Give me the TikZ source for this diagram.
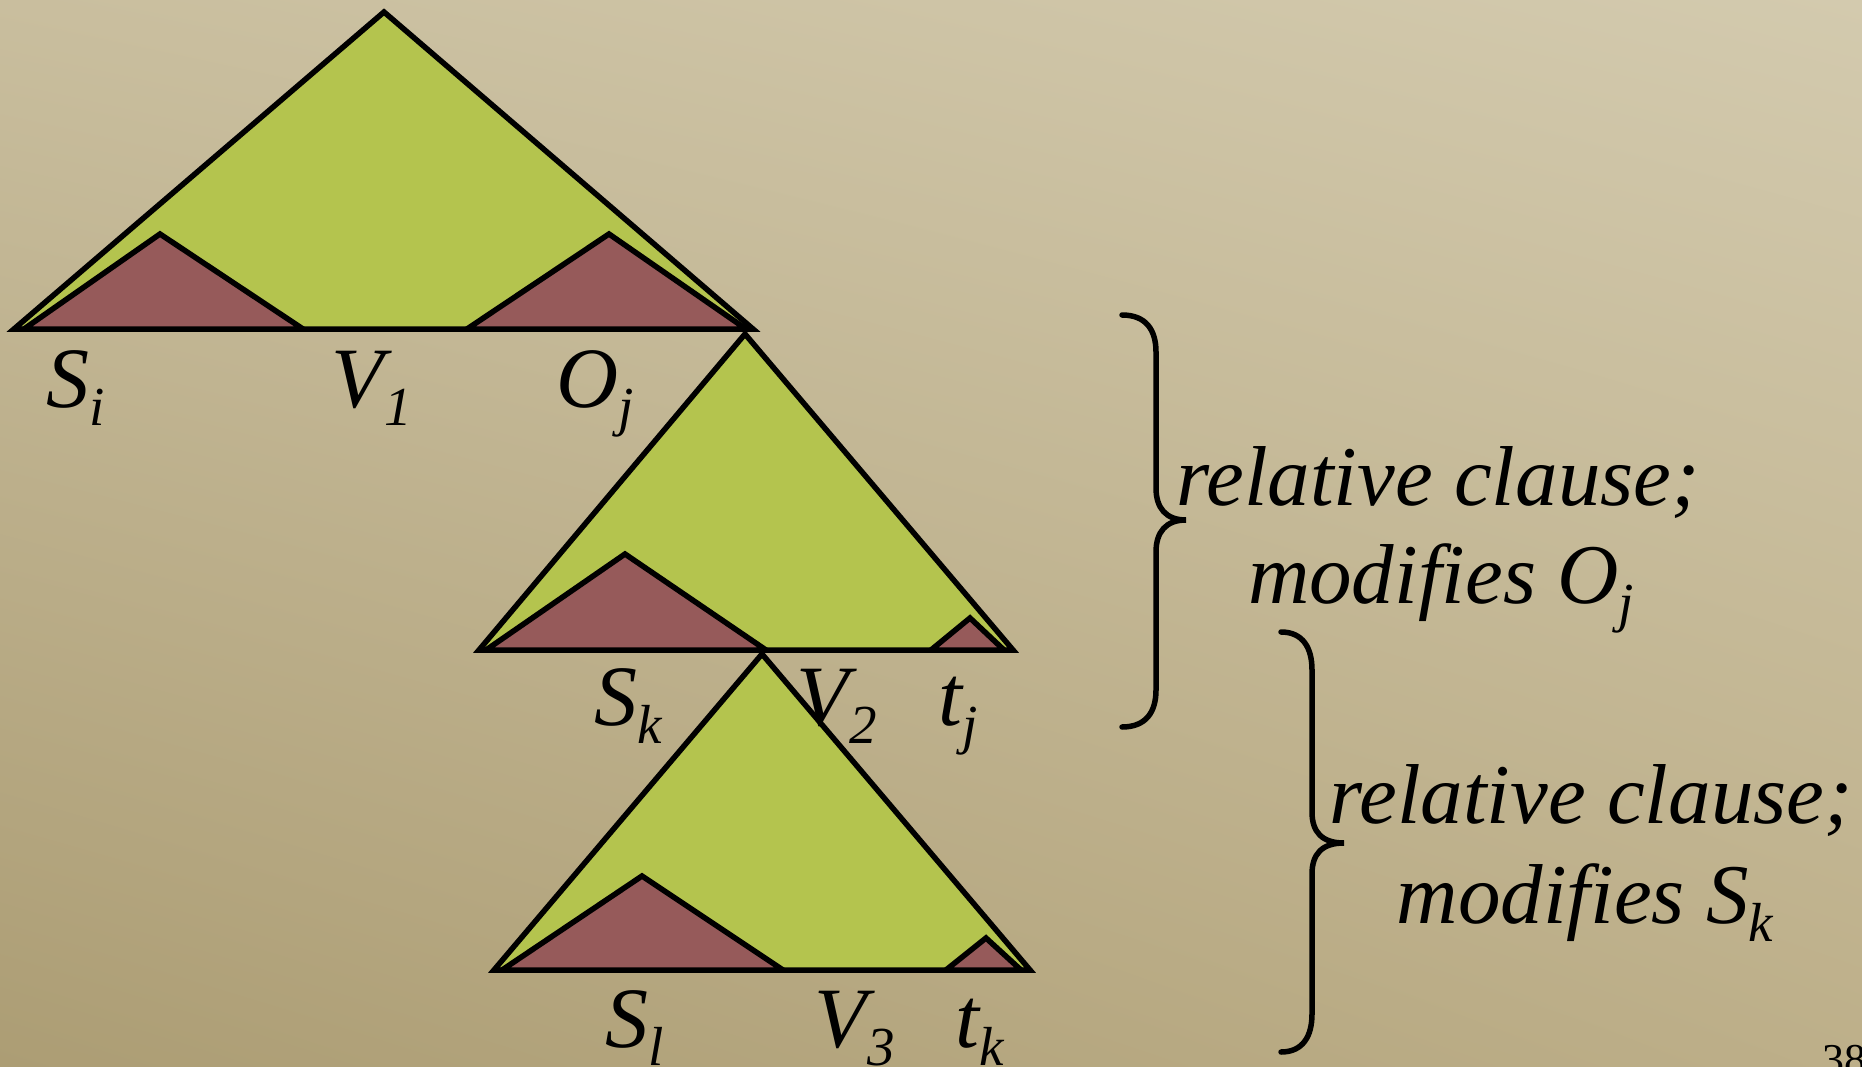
\documentclass[tikz,border=0pt]{standalone}
\usepackage{fontspec}
\setmainfont{Liberation Serif}
\usetikzlibrary{shadings}
\definecolor{treegreen}{HTML}{B4C44E}
\definecolor{treered}{HTML}{965A5A}
\definecolor{bgUL}{HTML}{C9BE9E}
\definecolor{bgUR}{HTML}{D3CAAE}
\definecolor{bgLL}{HTML}{AC9D74}
\definecolor{bgLR}{HTML}{BDAF89}
\newcommand\lowsub[1]{\raisebox{-0.22em}{\fontsize{55}{55}\selectfont #1}}
\begin{document}
\begin{tikzpicture}[x=1pt,y=-1pt,
  tri/.style={draw=black,line width=5.5pt,line join=miter},
  bigtri/.style={tri,fill=treegreen},
  subtri/.style={tri,fill=treered},
  lbl/.style={inner sep=0pt,anchor=base,font=\fontsize{86}{100}\selectfont\itshape},
  note/.style={inner sep=0pt,anchor=base,font=\fontsize{85}{98}\selectfont\itshape},
  bracepath/.style={draw=black,line width=5.5pt,line cap=round,line join=miter}]
\useasboundingbox (0,0) rectangle (1862,1067);
\shade[upper left=bgUL, upper right=bgUR, lower left=bgLL, lower right=bgLR] (0,0) rectangle (1862,1067);

% tree 1
\draw[bigtri] (14,329) -- (384,12) -- (753,329) -- cycle;
\draw[subtri] (24,329) -- (160,234) -- (303,329) -- cycle;
\draw[subtri] (467,329) -- (609,234) -- (746,329) -- cycle;

% tree 2
\draw[bigtri] (479,650) -- (745,334) -- (1013,650) -- cycle;
\draw[subtri] (486,650) -- (625,554) -- (766,650) -- cycle;
\draw[subtri] (931,650) -- (970,618) -- (1004,650) -- cycle;

% tree 3
\draw[bigtri] (494,970) -- (762,654) -- (1030,970) -- cycle;
\draw[subtri] (502,970) -- (642,876) -- (783,970) -- cycle;
\draw[subtri] (946,970) -- (986,938) -- (1021,970) -- cycle;

% labels
\node[lbl] (lSi) at (76,407) {S\lowsub{i}};
\node[lbl] (lVa) at (372,407) {V\lowsub{1}};
\node[lbl] (lOj) at (595,407) {O\lowsub{j}};
\node[lbl] (lSk) at (628,725) {S\lowsub{k}};
\node[lbl] (lVb) at (837,725) {V\lowsub{2}};
\node[lbl] (ltj) at (958,725) {t\lowsub{j}};
\node[lbl] (lSl) at (635,1047) {S\lowsub{l}};
\node[lbl] (lVc) at (855,1047) {V\lowsub{3}};
\node[lbl] (ltk) at (980,1047) {t\lowsub{k}};

% braces
\draw[bracepath] (1122,315) .. controls (1146,315) and (1156,330) .. (1156,352) -- (1156,488)
  .. controls (1156,508) and (1166,520) .. (1186,520)
  .. controls (1166,520) and (1156,532) .. (1156,552) -- (1156,690)
  .. controls (1156,712) and (1146,727) .. (1122,727);
\draw[bracepath] (1281,632) .. controls (1303,632) and (1312,648) .. (1312,670) -- (1312,812)
  .. controls (1312,832) and (1322,843) .. (1344,843)
  .. controls (1322,843) and (1312,854) .. (1312,874) -- (1312,1014)
  .. controls (1312,1036) and (1303,1052) .. (1281,1052);

% notes
\node[note] (rc1) at (1438,505) {relative clause;};
\node[note] (mo1) at (1441,603) {modifies O\lowsub{j}};
\node[note] (rc2) at (1591,823) {relative clause;};
\node[note] (mo2) at (1585,923) {modifies S\lowsub{k}};

\node[inner sep=0pt,anchor=base west,font=\fontsize{44}{44}\selectfont] (pg) at (1822,1074) {38};
\end{tikzpicture}
\end{document}
